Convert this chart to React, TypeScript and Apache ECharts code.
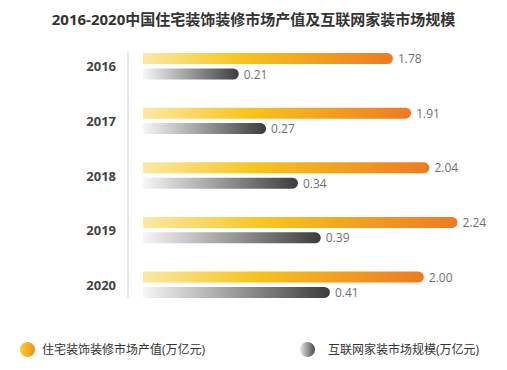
import React, { useEffect, useRef } from "react";
import * as echarts from "echarts";

const title = "2016-2020中国住宅装饰装修市场产值及互联网家装市场规模";
const years = ["2016", "2017", "2018", "2019", "2020"];
const seriesNames = ["住宅装饰装修市场产值(万亿元)", "互联网家装市场规模(万亿元)"];
const outputValues = [1.78, 1.91, 2.04, 2.24, 2.0];
const internetValues = [0.21, 0.27, 0.34, 0.39, 0.41];

const FONT = "'Open Sans', 'Noto Sans CJK SC', sans-serif";

const orangeGrad = () =>
  new echarts.graphic.LinearGradient(0, 0, 1, 0, [
    { offset: 0, color: "#fbe9a4" },
    { offset: 0.4, color: "#f6c41c" },
    { offset: 1, color: "#ee7a22" },
  ]);
const grayGrad = () =>
  new echarts.graphic.LinearGradient(0, 0, 1, 0, [
    { offset: 0, color: "#f6f6f6" },
    { offset: 1, color: "#3c3c3c" },
  ]);

export default function App() {
  const ref = useRef<HTMLDivElement>(null);
  useEffect(() => {
    document.body.style.margin = "0";
    if (!ref.current) return;
    const chart = echarts.init(ref.current, undefined, { renderer: "svg" });
    const labelStyle = {
      show: true,
      position: "right" as const,
      distance: 5,
      color: "#707070",
      fontSize: 12,
      fontFamily: FONT,
      formatter: (p: any) => Number(p.value).toFixed(2),
    };
    chart.setOption({
      animation: false,
      backgroundColor: "#ffffff",
      title: {
        text: title,
        left: "center",
        top: 6,
        textStyle: { fontSize: 15, fontWeight: "bold", color: "#333", fontFamily: FONT },
      },
      legend: [
        {
          left: 15,
          top: 337,
          itemWidth: 15,
          itemHeight: 15,
          icon: "circle",
          textStyle: { fontSize: 12, color: "#333", fontFamily: FONT, padding: [0, 0, 0, 2] },
          data: [
            {
              name: seriesNames[0],
              itemStyle: {
                color: new echarts.graphic.LinearGradient(0, 0, 1, 0, [
                  { offset: 0, color: "#fad030" },
                  { offset: 1, color: "#f0901c" },
                ]),
              },
            },
          ],
        },
        {
          left: 295,
          top: 337,
          itemWidth: 15,
          itemHeight: 15,
          icon: "circle",
          textStyle: { fontSize: 12, color: "#333", fontFamily: FONT, padding: [0, 0, 0, 8] },
          data: [
            {
              name: seriesNames[1],
              itemStyle: {
                color: new echarts.graphic.LinearGradient(0, 0, 1, 0, [
                  { offset: 0, color: "#e8e8e8" },
                  { offset: 1, color: "#4a4a4a" },
                ]),
              },
            },
          ],
        },
      ],
      grid: { left: 143, right: 13, top: 39, height: 273 },
      xAxis: [
        { type: "value", min: 0, max: 2.5, show: false },
        { type: "value", min: 0, max: 0.77, show: false },
      ],
      yAxis: {
        type: "category",
        data: years,
        inverse: true,
        axisLine: { show: false },
        axisTick: { show: false },
        axisLabel: {
          margin: 27,
          fontSize: 13,
          fontWeight: "bold",
          color: "#444",
          fontFamily: FONT,
        },
      },
      graphic: [
        {
          type: "line",
          shape: { x1: 128, y1: 52, x2: 128, y2: 298 },
          style: { stroke: "#cfcfcf", lineWidth: 1 },
        },
      ],
      series: [
        {
          name: seriesNames[0],
          type: "bar",
          xAxisIndex: 0,
          data: outputValues,
          barWidth: 11,
          barGap: "40%",
          itemStyle: { color: orangeGrad(), borderRadius: [0, 6, 6, 0] },
          label: labelStyle,
        },
        {
          name: seriesNames[1],
          type: "bar",
          xAxisIndex: 1,
          data: internetValues,
          barWidth: 11,
          barGap: "40%",
          itemStyle: { color: grayGrad(), borderRadius: [0, 6, 6, 0] },
          label: labelStyle,
        },
      ],
    });
    return () => chart.dispose();
  }, []);
  return <div ref={ref} style={{ width: 507, height: 370 }} />;
}
